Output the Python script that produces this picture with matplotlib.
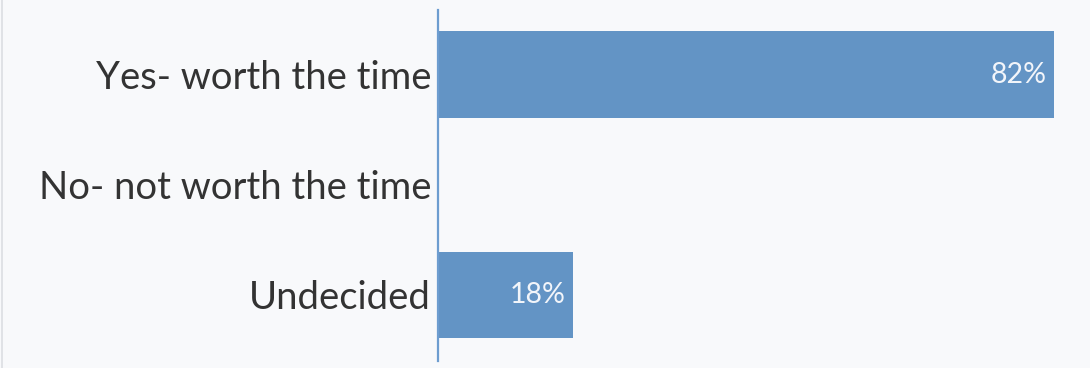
import matplotlib
matplotlib.use("Agg")
import matplotlib.pyplot as plt
from matplotlib.lines import Line2D

categories = ["Yes- worth the time", "No- not worth the time", "Undecided"]
values = [82, 0, 18]
value_labels = ["82%", "", "18%"]

bg = "#f8f9fb"
bar_color = "#6394c5"
axis_color = "#6d9dd0"
text_color = "#333333"

W, H = 1090, 368
fig = plt.figure(figsize=(W / 100, H / 100), dpi=100, facecolor=bg)
ax = fig.add_axes([438 / W, (H - 361) / H, (W - 438) / W, 351 / H])
ax.set_facecolor(bg)

ypos = list(range(len(categories)))
ax.barh(ypos, values, height=0.79, color=bar_color, zorder=2)
ax.set_xlim(0, 86.8)
ax.set_ylim(2.6, -0.59)

for s in ["top", "right", "bottom"]:
    ax.spines[s].set_visible(False)
ax.spines["left"].set_color(axis_color)
ax.spines["left"].set_linewidth(1.6)
ax.spines["left"].set_zorder(3)

ax.set_xticks([])
ax.set_yticks(ypos)
ax.set_yticklabels(categories, fontsize=27.5, color=text_color, family=["Lato", "DejaVu Sans"])
ax.tick_params(axis="y", length=0, pad=5)

for y, v, lab in zip(ypos, values, value_labels):
    if lab:
        ax.annotate(lab, xy=(v, y), xytext=(-5.5, 0), textcoords="offset points",
                    ha="right", va="center", fontsize=20.5, color="#f2f5fa",
                    family=["Lato", "DejaVu Sans"], zorder=4)

fig.add_artist(Line2D([1.5 / W, 1.5 / W], [0, 1], transform=fig.transFigure,
                      color="#dcdee2", linewidth=1.2))

fig.savefig("out.png", dpi=100, facecolor=bg)
